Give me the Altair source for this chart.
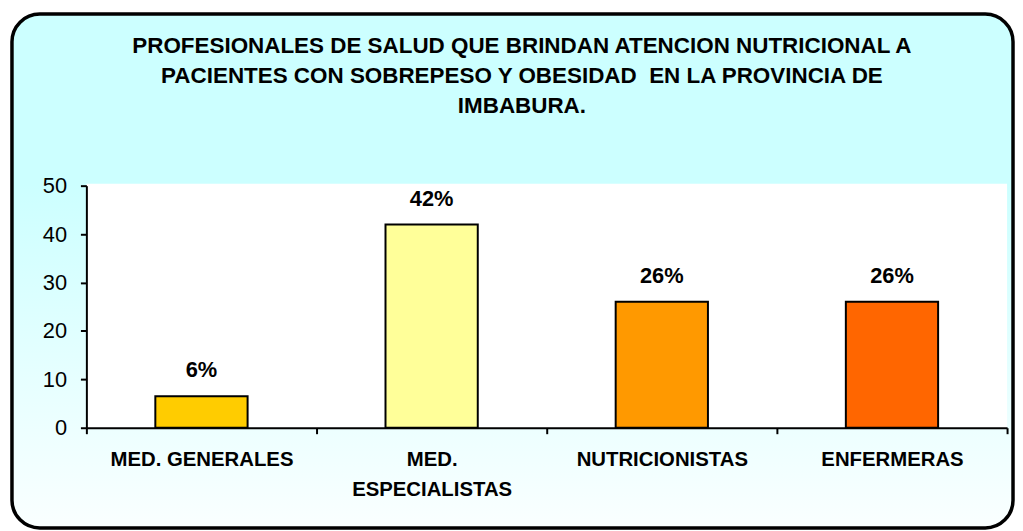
import altair as alt
import pandas as pd

categories = ["MED. GENERALES", "MED. ESPECIALISTAS", "NUTRICIONISTAS", "ENFERMERAS"]
values = [6.5, 42, 26, 26]
labels = ["6%", "42%", "26%", "26%"]
colors = ["#FFCC00", "#FFFF99", "#FF9900", "#FF6600"]
title_lines = [
    "PROFESIONALES DE SALUD QUE BRINDAN ATENCION NUTRICIONAL A",
    "PACIENTES CON SOBREPESO Y OBESIDAD \u00a0EN LA PROVINCIA DE",
    "IMBABURA.",
]

df = pd.DataFrame({"cat": categories, "val": values, "lab": labels, "col": colors})
one = pd.DataFrame({"a": [0]})

FONT = "Liberation Sans"
W, H = 928, 244

frame = alt.Chart(one).mark_rect(
    cornerRadius=28,
    stroke="black",
    strokeWidth=3.5,
    fill=alt.LinearGradient(
        gradient="linear",
        stops=[
            alt.GradientStop(color="#CCFFFF", offset=0),
            alt.GradientStop(color="#CCFFFF", offset=0.33),
            alt.GradientStop(color="#FAFFFF", offset=1),
        ],
        x1=0, x2=0, y1=0, y2=1,
    ),
).encode(
    x=alt.value(-75), x2=alt.value(934), y=alt.value(-173), y2=alt.value(345)
)

plotbg = alt.Chart(one).mark_rect(fill="white").encode(
    x=alt.value(0), x2=alt.value(W), y=alt.value(-2), y2=alt.value(H)
)

title = alt.Chart(one).mark_text(
    font=FONT, fontSize=22.6, fontWeight="bold", color="black",
    lineHeight=30.5, align="center", baseline="alphabetic",
).encode(x=alt.value(439), y=alt.value(-134), text=alt.value(title_lines))

xenc = alt.X(
    "cat:N",
    sort=categories,
    scale=alt.Scale(paddingInner=0, paddingOuter=0),
    axis=alt.Axis(
        title=None,
        labelAngle=0,
        labelFont=FONT,
        labelFontSize=20.5,
        labelFontWeight="bold",
        labelColor="black",
        labelPadding=16,
        labelLineHeight=30,
        labelBaseline="top",
        labelLimit=0,
        labelExpr="datum.value == 'MED. ESPECIALISTAS' ? ['MED.', 'ESPECIALISTAS'] : datum.value",
        tickBand="extent",
        tickSize=6,
        tickWidth=2,
        tickColor="black",
        domainColor="black",
        domainWidth=2,
        zindex=2,
    ),
)
yenc = alt.Y(
    "val:Q",
    scale=alt.Scale(domain=[0, 50], nice=False),
    axis=alt.Axis(
        title=None,
        values=[0, 10, 20, 30, 40, 50],
        labelFont=FONT,
        labelFontSize=22,
        labelColor="black",
        labelPadding=14,
        tickSize=6,
        tickWidth=2,
        tickColor="black",
        domainColor="black",
        domainWidth=2,
        grid=False,
        zindex=2,
    ),
)

bars = alt.Chart(df).mark_bar(size=93, stroke="black", strokeWidth=2).encode(
    x=xenc, y=yenc, color=alt.Color("col:N", scale=None)
)

text = alt.Chart(df).mark_text(
    font=FONT, fontSize=22, fontWeight="bold", color="black",
    baseline="alphabetic", dy=-19,
).encode(x=alt.X("cat:N", sort=categories), y="val:Q", text="lab:N")

chart = alt.layer(frame, plotbg, title, bars, text).properties(
    width=W,
    height=H,
    padding={"left": 79, "top": 177, "right": 8, "bottom": 102},
    autosize=alt.AutoSizeParams(type="none"),
    background="white",
).configure_view(stroke=None)

chart.save("out.html", embed_options={"renderer": "svg", "actions": False})
